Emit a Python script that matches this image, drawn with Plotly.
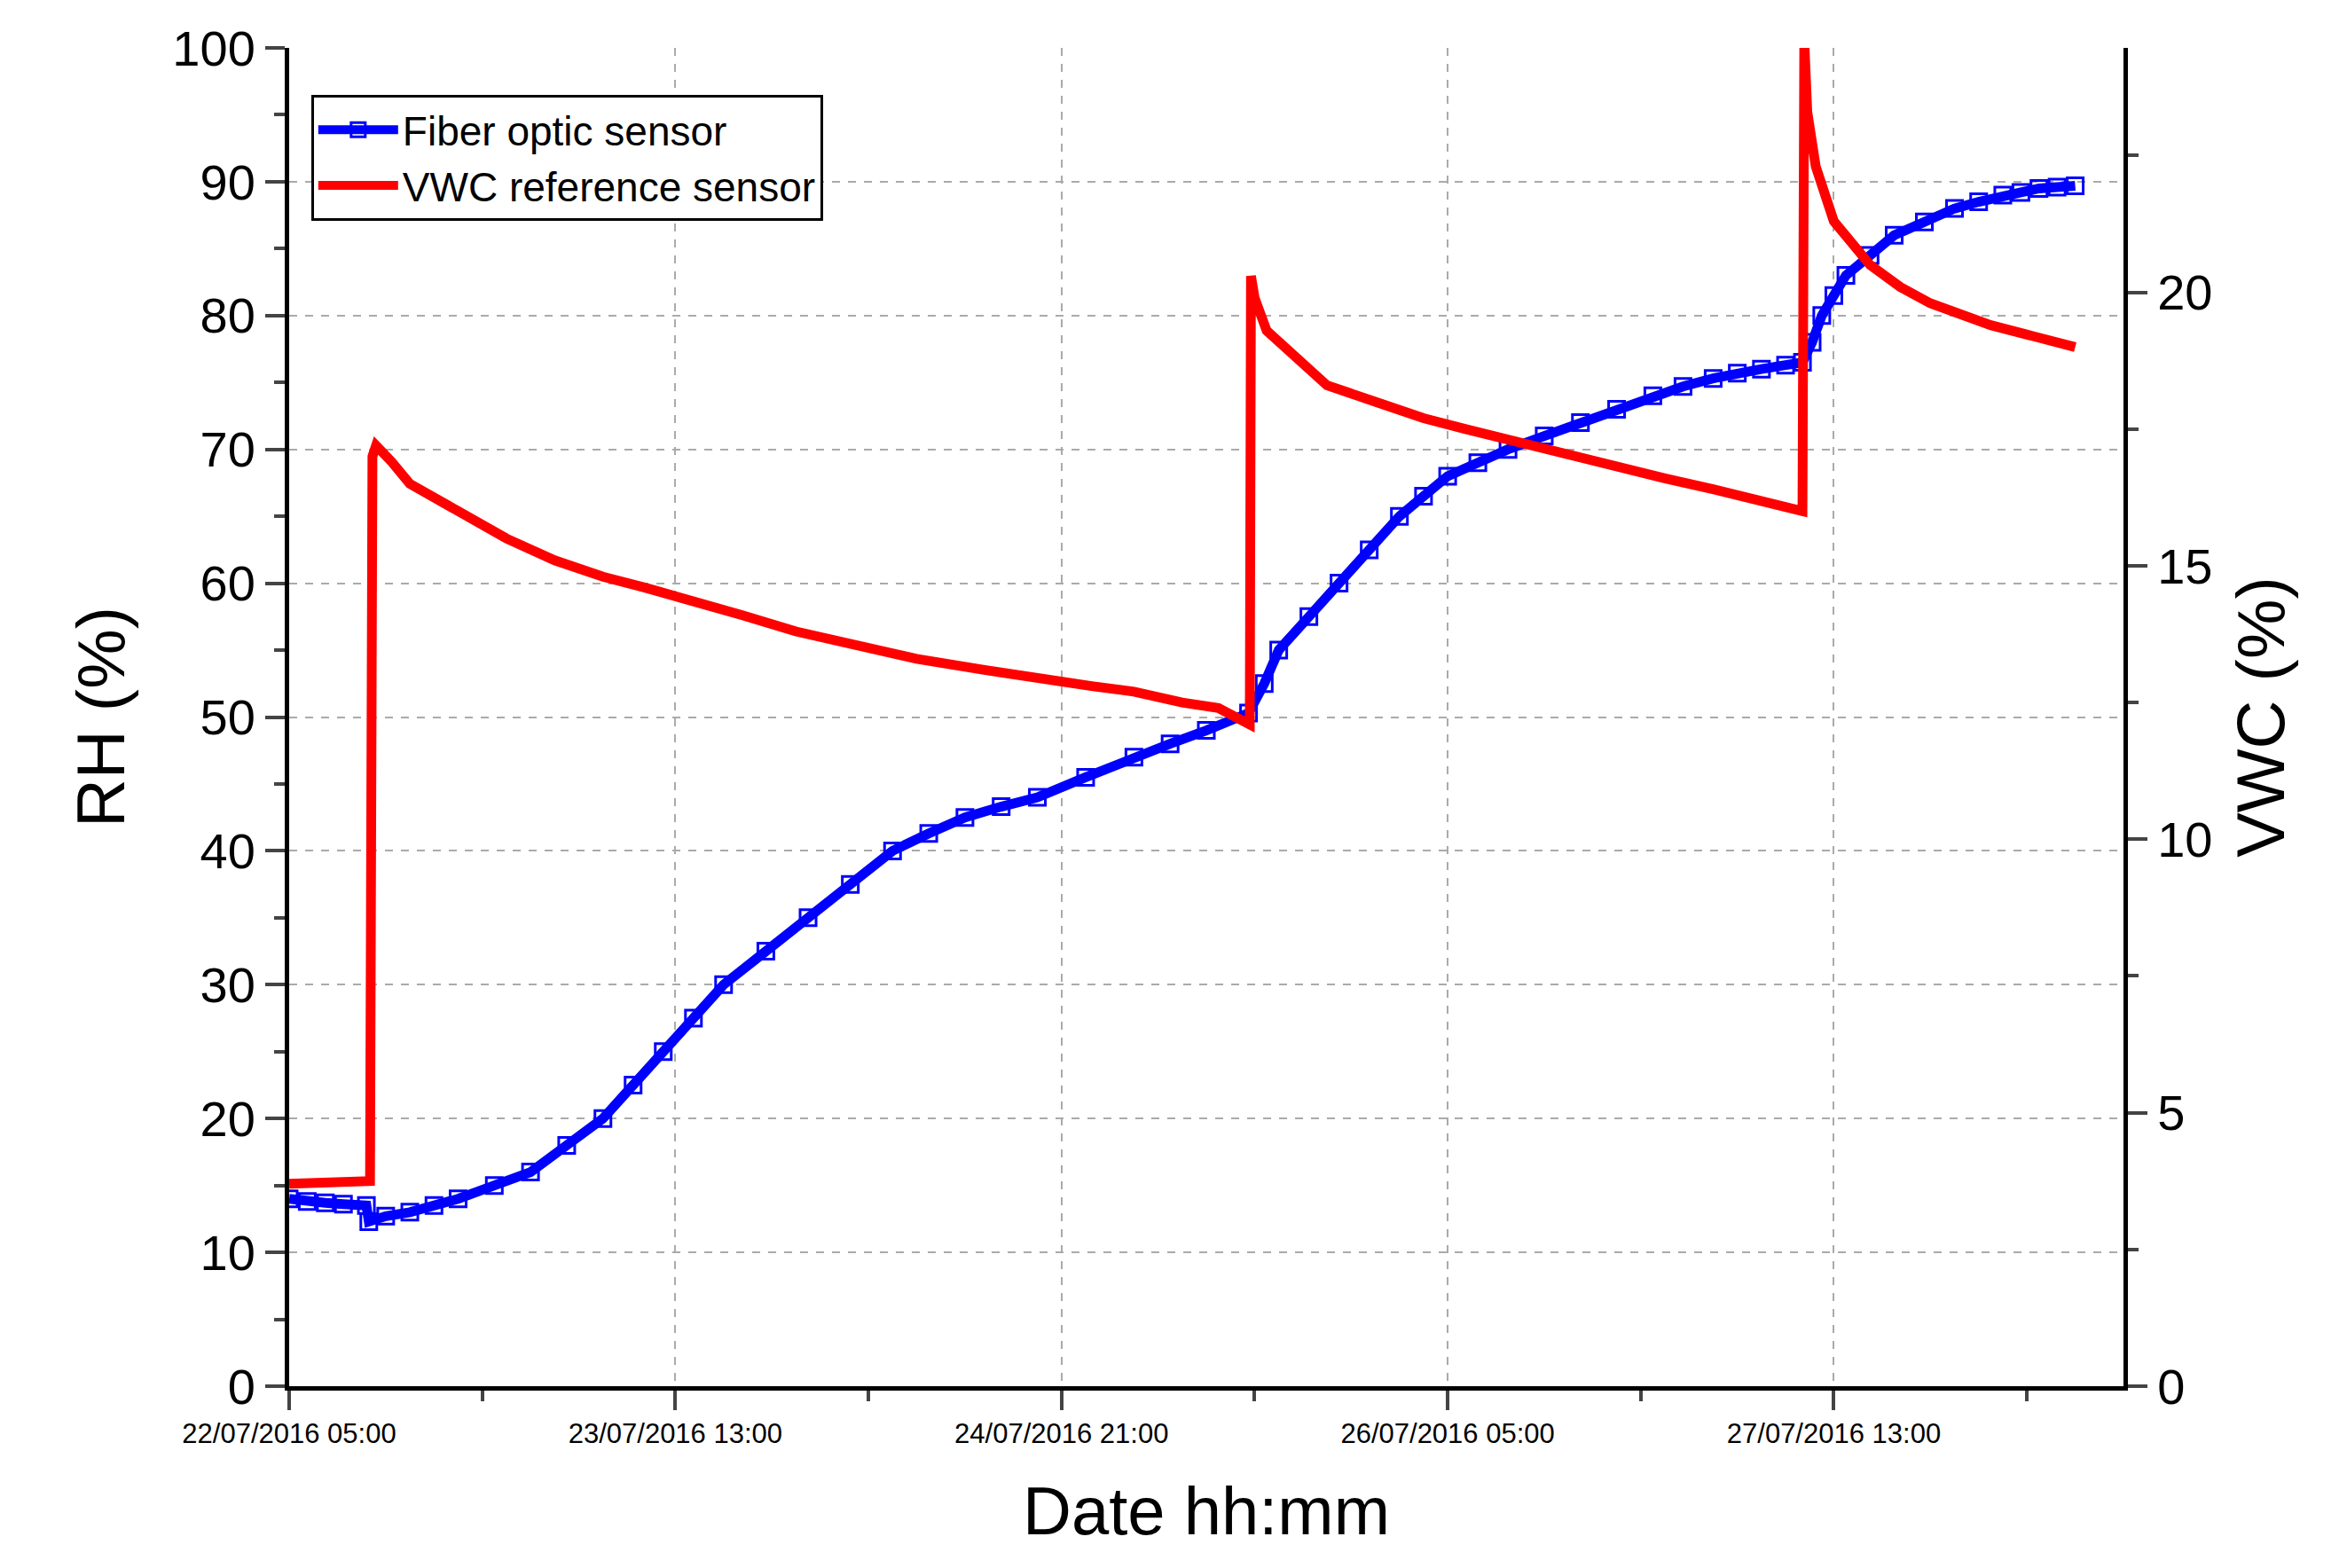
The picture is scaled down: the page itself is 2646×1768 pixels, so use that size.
import plotly.graph_objects as go
from datetime import datetime, timedelta

start = datetime(2016, 7, 22, 5, 0)
rh_hours = [0, 1.5, 3, 4.5, 6.4, 6.6, 8, 10, 12, 14, 17, 20, 23, 26, 28.5, 31, 33.5, 36, 39.5, 43, 46.5, 50, 53, 56, 59, 62, 66, 70, 73, 76, 79.5, 80.8, 82, 84.5, 87, 89.5, 92, 94, 96, 98.5, 101, 104, 107, 110, 113, 115.5, 118, 120, 122, 124, 125.4, 126.2, 127, 128, 129, 131, 133, 135.5, 138, 140, 142, 143.5, 145, 146.5, 148]
rh_vals = [14, 13.8, 13.7, 13.6, 13.5, 12.3, 12.7, 13, 13.5, 14, 15, 16, 18, 20, 22.5, 25, 27.5, 30, 32.5, 35, 37.5, 40, 41.3, 42.5, 43.3, 44, 45.5, 47, 48, 49, 50.3, 52.5, 55, 57.5, 60, 62.5, 65, 66.5, 68, 69, 70, 71, 72, 73, 74, 74.7, 75.3, 75.7, 76, 76.3, 76.5, 78, 80, 81.5, 83, 84.5, 86, 87, 88, 88.5, 89, 89.2, 89.5, 89.6, 89.7]
vwc_hours = [0, 6.7, 6.9, 7.2, 8.5, 10, 14, 18, 22, 26, 29.5, 33, 37.5, 42, 47, 52, 57.5, 63, 66.5, 70, 74, 77, 79.6, 79.7, 80, 81, 83.5, 86, 90, 94, 97.5, 101, 105.5, 110, 114, 118, 122, 125.4, 125.55, 125.8, 126.5, 128, 131, 133.5, 136, 138.5, 141, 144.5, 148]
vwc_vals = [3.7, 3.75, 17.0, 17.2, 16.9, 16.5, 16.0, 15.5, 15.1, 14.8, 14.6, 14.4, 14.1, 13.8, 13.55, 13.3, 13.1, 12.9, 12.8, 12.7, 12.5, 12.4, 12.1, 20.3, 19.9, 19.3, 18.8, 18.3, 18.0, 17.7, 17.5, 17.3, 17.05, 16.8, 16.6, 16.4, 16.2, 16.0, 24.6, 23.3, 22.3, 21.3, 20.5, 20.1, 19.8, 19.6, 19.4, 19.2, 19.0]
tick_hours = [0, 32, 64, 96, 128]

rh_x = [start + timedelta(hours=h) for h in rh_hours]
vwc_x = [start + timedelta(hours=h) for h in vwc_hours]
tickvals = [start + timedelta(hours=h) for h in tick_hours]
ticktext = [t.strftime("%d/%m/%Y %H:%M") for t in tickvals]

F = "Liberation Sans, Arial, sans-serif"
fig = go.Figure()
fig.add_trace(go.Scatter(x=rh_x, y=rh_vals, name="Fiber optic sensor", mode="lines+markers",
                         line=dict(color="#0000ff", width=11),
                         marker=dict(symbol="square-open", size=18, color="#0000ff", line=dict(width=3))))
fig.add_trace(go.Scatter(x=vwc_x, y=vwc_vals, name="VWC reference sensor", mode="lines",
                         line=dict(color="#ff0000", width=11), yaxis="y2"))

grid = dict(showgrid=True, gridcolor="#aaaaaa", griddash="dash", gridwidth=2)
fig.update_layout(
    width=2646, height=1768, paper_bgcolor="white", plot_bgcolor="white",
    margin=dict(l=318, r=260, t=46, b=213),
    font=dict(family=F, color="black"),
    xaxis=dict(range=[start, start + timedelta(hours=152)], tickvals=tickvals, ticktext=ticktext,
               tickfont=dict(size=31), ticks="outside", ticklen=22, tickwidth=4,
               minor=dict(dtick=16 * 3600 * 1000, tick0=start, ticks="outside", ticklen=12, tickwidth=4, showgrid=False),
               showline=True, linecolor="black", linewidth=5, zeroline=False,
               title=dict(text="Date hh:mm", font=dict(size=76), standoff=45), **grid),
    yaxis=dict(range=[0, 100], dtick=10, tickfont=dict(size=56), ticks="outside", ticklen=22, tickwidth=4,
               minor=dict(dtick=5, ticks="outside", ticklen=12, tickwidth=4, showgrid=False),
               showline=True, linecolor="black", linewidth=5, zeroline=False,
               title=dict(text="RH (%)", font=dict(size=76), standoff=30), **grid),
    yaxis2=dict(range=[0, 24.47], overlaying="y", side="right", tickvals=[0, 5, 10, 15, 20],
                tickfont=dict(size=56), ticks="outside", ticklen=22, tickwidth=4,
                minor=dict(dtick=2.5, ticks="outside", ticklen=12, tickwidth=4),
                showline=True, linecolor="black", linewidth=5, showgrid=False, zeroline=False,
                title=dict(text="VWC (%)", font=dict(size=76), standoff=30)),
    legend=dict(x=0.012, y=0.965, xanchor="left", yanchor="top", bgcolor="white",
                bordercolor="black", borderwidth=3, font=dict(size=46), itemwidth=90),
)
fig.write_html("out.html")
